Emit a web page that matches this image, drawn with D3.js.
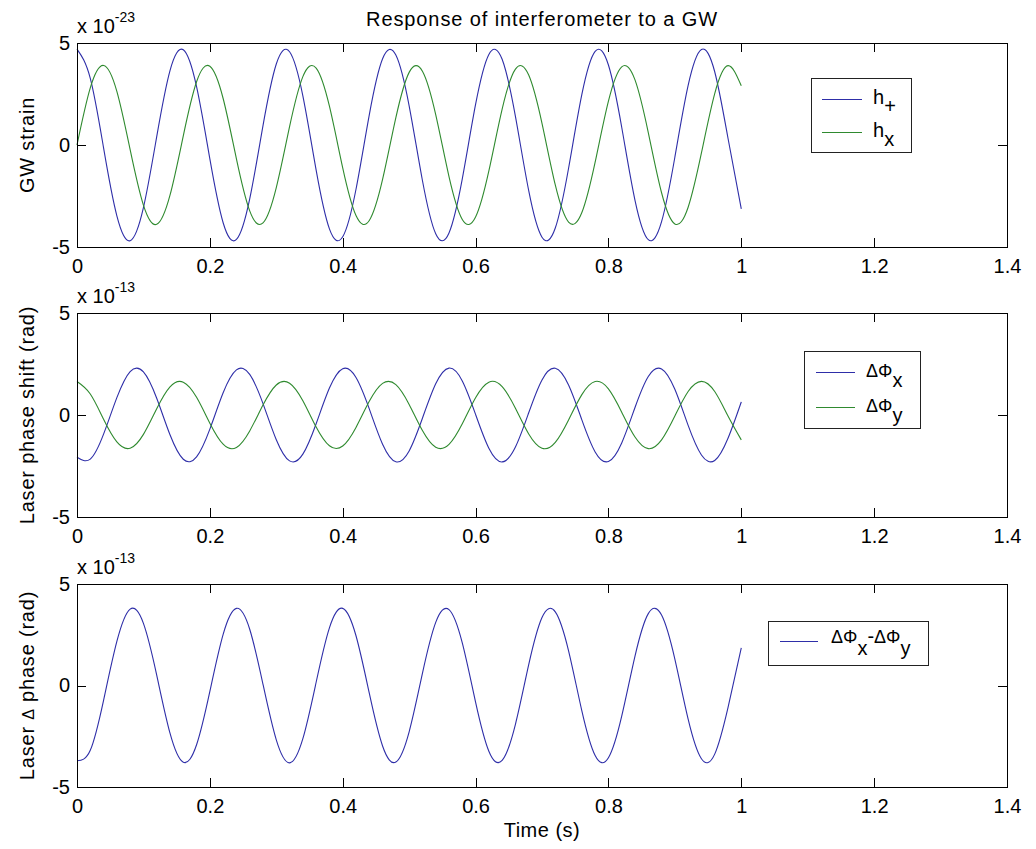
<!DOCTYPE html>
<html><head><meta charset="utf-8">
<script src="https://cdn.jsdelivr.net/npm/d3@7"></script>
<style>
html,body{margin:0;padding:0;background:#fff;}
svg text{font-family:Arial,"Liberation Sans",sans-serif;fill:#000;}
</style></head><body>
<svg id="chart" width="1036" height="849"></svg>
<script>
// ---- data ----
const time = [0,0.02,0.04,0.06,0.08,0.1,0.12,0.14,0.16,0.18,0.2,0.22,0.24,0.26,0.28,0.3,0.32,0.34,0.36,0.38,0.4,0.42,0.44,0.46,0.48,0.5,0.52,0.54,0.56,0.58,0.6,0.62,0.64,0.66,0.68,0.7,0.72,0.74,0.76,0.78,0.8,0.82,0.84,0.86,0.88,0.9,0.92,0.94,0.96,0.98,1];
const hPlus = [4.70,3.27,-0.14,-3.47,-4.69,-3.07,0.41,3.65,4.67,2.86,-0.68,-3.81,-4.63,-2.64,0.95,3.97,4.57,2.41,-1.23,-4.11,-4.50,-2.17,1.48,4.23,4.41,1.92,-1.74,-4.35,-4.31,-1.66,1.99,4.44,4.20,1.40,-2.24,-4.52,-4.07,-1.14,2.48,4.59,3.92,0.87,-2.71,-4.64,-3.76,-0.60,2.92,4.68,3.59,0.33,-3.13];
const hCross = [0.00,2.80,3.90,2.63,-0.23,-2.95,-3.89,-2.46,0.45,3.10,3.86,2.28,-0.68,-3.23,-3.82,-2.09,0.90,3.35,3.77,1.90,-1.12,-3.46,-3.70,-1.69,1.34,3.56,3.62,1.49,-1.55,-3.65,-3.53,-1.27,1.76,3.72,3.43,1.06,-1.96,-3.78,-3.31,-0.84,2.15,3.83,3.19,0.61,-2.34,-3.87,-3.05,-0.39,2.52,3.89,2.90];
const dPhiX = [-2.07,-2.16,-0.94,0.85,2.13,2.11,0.82,-0.97,-2.17,-2.05,-0.69,1.09,2.21,1.99,0.56,-1.21,-2.25,-1.92,-0.43,1.32,2.27,1.84,0.30,-1.43,-2.29,-1.76,-0.16,1.53,2.30,1.67,0.03,-1.63,-2.30,-1.57,0.11,1.72,2.29,1.47,-0.24,-1.81,-2.28,-1.37,0.37,1.89,2.26,1.26,-0.51,-1.96,-2.23,-1.14,0.64];
const dPhiY = [1.64,1.03,-0.21,-1.32,-1.63,-0.95,0.31,1.38,1.61,0.87,-0.40,-1.43,-1.59,-0.78,0.49,1.47,1.56,0.70,-0.59,-1.51,-1.52,-0.61,0.67,1.55,1.49,0.52,-0.76,-1.58,-1.44,-0.43,0.85,1.61,1.39,0.33,-0.93,-1.63,-1.34,-0.24,1.00,1.64,1.28,0.14,-1.08,-1.65,-1.22,-0.05,1.15,1.65,1.15,-0.05,-1.22];
const dPhiDiff = [-3.71,-3.19,-0.73,2.17,3.76,3.06,0.51,-2.35,-3.78,-2.92,-0.29,2.52,3.80,2.77,0.06,-2.68,-3.81,-2.62,0.16,2.84,3.80,2.45,-0.38,-2.98,-3.77,-2.28,0.60,3.11,3.74,2.10,-0.82,-3.24,-3.69,-1.91,1.03,3.35,3.63,1.71,-1.25,-3.45,-3.56,-1.51,1.45,3.54,3.47,1.30,-1.66,-3.61,-3.38,-1.09,1.85];

const xTicks = [0,0.2,0.4,0.6,0.8,1,1.2,1.4];
const xTickLabels = ["0","0.2","0.4","0.6","0.8","1","1.2","1.4"];
const yTicks = [-5,0,5];
const yTickLabels = ["-5","0","5"];
const exponents = ["-23","-13","-13"];
const titleText = "Response of interferometer to a GW";
const xLabelText = "Time (s)";

// ---- styles / layout ----
const BLUE = "#2e2ea8", GREEN = "#2f8a2f";
const svg = d3.select("#chart");
const X0 = 77, X1 = 1007;
const x = d3.scaleLinear().domain([0, 1.4]).range([X0, X1]);

const panels = [
  { top: 43, bottom: 247, exp: exponents[0],
    ylabel: [{t:"GW strain"}],
    series: [{v: hPlus, c: BLUE}, {v: hCross, c: GREEN}],
    legend: { x: 811, y: 78, w: 100, h: 74, lx0: 822, lx1: 862, tx: 873, rows: [99, 132], dy: 4.5, sub: 9,
      items: [[{t:"h"},{t:"+",sub:1}], [{t:"h"},{t:"x",sub:1}]] } },
  { top: 313, bottom: 517, exp: exponents[1],
    ylabel: [{t:"Laser phase shift (rad)"}],
    series: [{v: dPhiX, c: BLUE}, {v: dPhiY, c: GREEN}],
    legend: { x: 804, y: 351, w: 116, h: 77, lx0: 816, lx1: 855, tx: 866, rows: [372, 407], dy: 5, sub: 10,
      items: [[{t:"ΔΦ",g:1},{t:"x",sub:1}], [{t:"ΔΦ",g:1},{t:"y",sub:1}]] } },
  { top: 584, bottom: 787, exp: exponents[2],
    ylabel: [{t:"Laser "},{t:"Δ",g:1},{t:" phase (rad)"}],
    series: [{v: dPhiDiff, c: BLUE}],
    legend: { x: 768, y: 621, w: 160, h: 44, lx0: 780, lx1: 818, tx: 831, rows: [641], dy: 1.5, sub: 12,
      items: [[{t:"ΔΦ",g:1},{t:"x",sub:1},{t:"-"},{t:"ΔΦ",g:1},{t:"y",sub:1}]] } }
];

// title
svg.append("text").attr("x", (X0 + X1) / 2).attr("y", 26)
  .attr("text-anchor", "middle").attr("font-size", 20).attr("letter-spacing", "0.9px")
  .text(titleText);

panels.forEach(p => {
  const y = d3.scaleLinear().domain([-5, 5]).range([p.bottom, p.top]);
  const g = svg.append("g");

  // curves
  const line = d3.line().x((d, i) => x(time[i])).y(d => y(d)).curve(d3.curveNatural);
  p.series.forEach(s => {
    g.append("path").datum(s.v).attr("d", line)
      .attr("fill", "none").attr("stroke", s.c).attr("stroke-width", 1.1);
  });

  // axes (ticks inward, MATLAB style)
  const ax = (gen, tx, ty, labels) => {
    const a = g.append("g").attr("transform", `translate(${tx},${ty})`).call(gen);
    a.selectAll("path.domain").attr("stroke", "#000").attr("shape-rendering", "crispEdges");
    a.selectAll(".tick line").attr("stroke", "#000").attr("shape-rendering", "crispEdges");
    a.selectAll("text").attr("font-size", 20).attr("fill", "#000")
      .attr("font-family", "Arial, 'Liberation Sans', sans-serif");
    if (!labels) a.selectAll("text").remove();
    return a;
  };
  ax(d3.axisBottom(x).tickValues(xTicks).tickFormat((d, i) => xTickLabels[i])
       .tickSizeInner(-9).tickSizeOuter(0).tickPadding(12), 0, p.bottom, true);
  ax(d3.axisTop(x).tickValues(xTicks).tickSizeInner(-9).tickSizeOuter(0), 0, p.top, false);
  ax(d3.axisLeft(y).tickValues(yTicks).tickFormat((d, i) => yTickLabels[i])
       .tickSizeInner(-9).tickSizeOuter(0).tickPadding(7), X0, 0, true);
  ax(d3.axisRight(y).tickValues(yTicks).tickSizeInner(-9).tickSizeOuter(0), X1, 0, false);

  // exponent label "x 10^-n"
  const et = svg.append("text").attr("x", X0).attr("y", p.top - 10).attr("font-size", 20);
  et.append("tspan").text("x 10");
  et.append("tspan").attr("dy", -11).attr("font-size", 14).text(p.exp);

  // y label
  const yl = svg.append("text")
    .attr("transform", `translate(34,${(p.top + p.bottom) / 2}) rotate(-90)`)
    .attr("text-anchor", "middle").attr("font-size", 20).attr("letter-spacing", "0.8px");
  p.ylabel.forEach(s => yl.append("tspan").attr("font-size", s.g ? 16 : 20).text(s.t));

  // legend
  const L = p.legend;
  svg.append("rect").attr("x", L.x + 0.5).attr("y", L.y + 0.5).attr("width", L.w).attr("height", L.h)
    .attr("fill", "#fff").attr("stroke", "#222").attr("stroke-width", 1);
  L.items.forEach((segs, i) => {
    const ry = L.rows[i];
    svg.append("line").attr("x1", L.lx0).attr("x2", L.lx1).attr("y1", ry + 0.5).attr("y2", ry + 0.5)
      .attr("stroke", p.series[i].c).attr("stroke-width", 1.1);
    const t = svg.append("text").attr("x", L.tx).attr("y", ry + L.dy).attr("font-size", 20);
    let cur = 0;
    segs.forEach(s => {
      const target = s.sub ? L.sub : 0;
      t.append("tspan").attr("dy", target - cur).attr("font-size", s.g ? 18 : 20).text(s.t);
      cur = target;
    });
  });
});

// x label
svg.append("text").attr("x", (X0 + X1) / 2).attr("y", 837)
  .attr("text-anchor", "middle").attr("font-size", 20).attr("letter-spacing", "0.5px").text(xLabelText);
</script>
</body></html>
